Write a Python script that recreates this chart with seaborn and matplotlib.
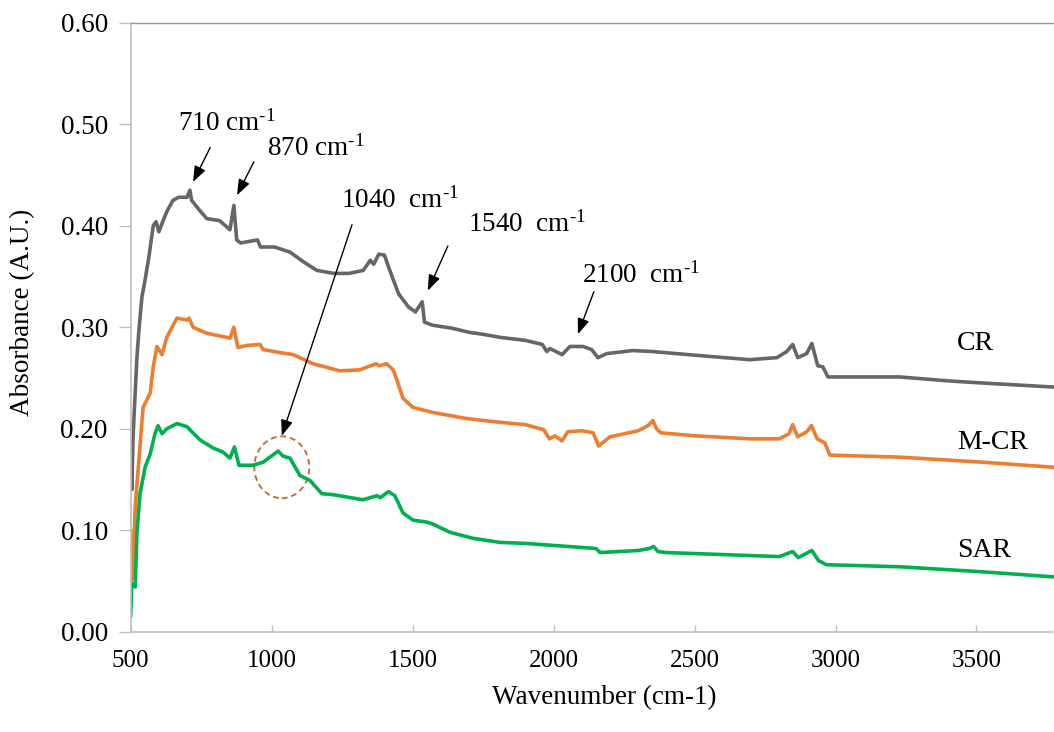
import numpy as np
import pandas as pd
import matplotlib
matplotlib.use("Agg")
import matplotlib.pyplot as plt
from matplotlib.patches import Ellipse
import seaborn as sns

# FTIR absorbance spectra (wavenumber in cm-1, absorbance in A.U.)
cr_wn = [500, 504, 508, 515, 522, 530, 540, 550, 565, 580, 590, 600, 615, 630, 650, 670, 700, 710, 716,
         745, 770, 815, 840, 852, 866, 876, 890, 950, 960, 1010, 1065, 1115, 1160, 1220, 1275, 1325, 1350,
         1362, 1380, 1400, 1415, 1450, 1485, 1510, 1534, 1542, 1570, 1640, 1700, 1750, 1810, 1900, 1960,
         1976, 1987, 2030, 2058, 2104, 2135, 2157, 2189, 2281, 2352, 2519, 2696, 2792, 2827, 2848, 2866,
         2898, 2916, 2937, 2955, 2973, 3110, 3227, 3405, 3522, 3650, 3775]
cr_abs = [0.160, 0.140, 0.190, 0.230, 0.270, 0.300, 0.330, 0.345, 0.370, 0.400, 0.404, 0.394, 0.405, 0.415,
          0.425, 0.428, 0.428, 0.435, 0.425, 0.415, 0.407, 0.405, 0.399, 0.396, 0.420, 0.386, 0.383, 0.386,
          0.379, 0.379, 0.374, 0.364, 0.356, 0.353, 0.353, 0.356, 0.366, 0.362, 0.372, 0.371, 0.359, 0.333,
          0.320, 0.315, 0.325, 0.305, 0.302, 0.299, 0.295, 0.293, 0.290, 0.287, 0.283, 0.276, 0.279, 0.273,
          0.281, 0.281, 0.278, 0.270, 0.274, 0.277, 0.276, 0.272, 0.268, 0.270, 0.276, 0.283, 0.270, 0.274,
          0.284, 0.262, 0.261, 0.251, 0.251, 0.251, 0.247, 0.245, 0.243, 0.241]

mcr_wn = [500, 504, 510, 516, 527, 544, 569, 580, 593, 611, 628, 664, 700, 707, 721, 770, 841, 852, 866,
          880, 912, 958, 970, 1029, 1076, 1147, 1242, 1313, 1370, 1382, 1408, 1431, 1444, 1466, 1501, 1572,
          1692, 1785, 1900, 1965, 1985, 2005, 2030, 2050, 2100, 2140, 2160, 2200, 2300, 2335, 2352, 2365,
          2380, 2500, 2700, 2800, 2835, 2848, 2866, 2898, 2915, 2935, 2962, 2980, 3100, 3227, 3522, 3775]
mcr_abs = [0.100, 0.051, 0.080, 0.123, 0.162, 0.221, 0.235, 0.261, 0.281, 0.273, 0.290, 0.309, 0.307, 0.309,
           0.300, 0.294, 0.290, 0.289, 0.300, 0.280, 0.282, 0.283, 0.278, 0.275, 0.273, 0.264, 0.257, 0.258,
           0.264, 0.262, 0.264, 0.258, 0.248, 0.230, 0.221, 0.216, 0.210, 0.207, 0.204, 0.199, 0.190, 0.193,
           0.188, 0.197, 0.198, 0.196, 0.183, 0.192, 0.198, 0.203, 0.208, 0.200, 0.196, 0.193, 0.190, 0.190,
           0.195, 0.204, 0.192, 0.197, 0.203, 0.190, 0.186, 0.174, 0.173, 0.172, 0.167, 0.162]

sar_wn = [500, 504, 516, 522, 533, 551, 569, 586, 597, 611, 628, 664, 700, 710, 746, 792, 827, 852, 868,
          884, 934, 970, 994, 1023, 1040, 1065, 1100, 1136, 1178, 1218, 1324, 1374, 1385, 1414, 1437, 1466,
          1501, 1550, 1572, 1632, 1714, 1810, 1900, 2000, 2100, 2150, 2165, 2300, 2340, 2355, 2370, 2400,
          2700, 2800, 2848, 2868, 2916, 2940, 2968, 3227, 3522, 3775]
sar_abs = [0.015, 0.048, 0.044, 0.097, 0.136, 0.162, 0.175, 0.195, 0.203, 0.195, 0.200, 0.205, 0.202, 0.199,
           0.189, 0.181, 0.177, 0.171, 0.182, 0.164, 0.164, 0.167, 0.172, 0.178, 0.173, 0.171, 0.154, 0.149,
           0.136, 0.135, 0.130, 0.134, 0.132, 0.138, 0.134, 0.117, 0.110, 0.108, 0.106, 0.098, 0.092, 0.088,
           0.087, 0.085, 0.083, 0.082, 0.078, 0.080, 0.082, 0.084, 0.079, 0.078, 0.075, 0.074, 0.079, 0.073,
           0.080, 0.070, 0.066, 0.064, 0.059, 0.054]

series_names = ["CR", "M-CR", "SAR"]
series_colors = ["#666666", "#ED7D31", "#00B050"]
series_label_y = [0.284, 0.186, 0.080]

x_ticks = [500, 1000, 1500, 2000, 2500, 3000, 3500]
y_ticks = [0.0, 0.1, 0.2, 0.3, 0.4, 0.5, 0.6]

# peak annotations: label, text anchor, arrow tail, arrow tip
peak_labels = ["710 cm$^{\\text{-1}}$", "870 cm$^{\\text{-1}}$", "1040  cm$^{\\text{-1}}$",
               "1540  cm$^{\\text{-1}}$", "2100  cm$^{\\text{-1}}$"]
peak_text_xy = [(668, 0.494), (984, 0.469), (1246, 0.418), (1696, 0.394), (2101, 0.344)]
peak_arrow_tail = [(782, 0.477), (937, 0.463), (1285, 0.401), (1625, 0.380), (2143, 0.335)]
peak_arrow_tip = [(721, 0.443), (877, 0.430), (1036, 0.193), (1554, 0.336), (2086, 0.293)]

sns.set_theme(style="white")
plt.rcParams["font.family"] = ["Liberation Serif", "DejaVu Serif"]
plt.rcParams["mathtext.fontset"] = "custom"
plt.rcParams["mathtext.rm"] = "Liberation Serif"
plt.rcParams["mathtext.default"] = "regular"

fig = plt.figure(figsize=(10.54, 7.32), dpi=100)
ax = fig.add_axes([0.124, 0.137, 0.876, 0.832])

frames = []
for name, wn, ab in [("CR", cr_wn, cr_abs), ("M-CR", mcr_wn, mcr_abs), ("SAR", sar_wn, sar_abs)]:
    frames.append(pd.DataFrame({"wavenumber": wn, "absorbance": ab, "sample": name}))
df = pd.concat(frames, ignore_index=True)

sns.lineplot(data=df, x="wavenumber", y="absorbance", hue="sample", hue_order=series_names,
             palette=series_colors, estimator=None, sort=False, linewidth=2.6, legend=False, ax=ax)

ax.set_xlim(500, 3775)
ax.set_ylim(0, 0.6)
ax.set_xticks(x_ticks)
ax.set_xticklabels([str(t) for t in x_ticks])
ax.set_yticks(y_ticks)
ax.set_yticklabels([f"{t:.2f}" for t in y_ticks])

ax.spines["right"].set_visible(False)
ax.spines["top"].set_color("#8497B0")
ax.spines["top"].set_linestyle((0, (1, 1)))
ax.spines["top"].set_linewidth(1.0)
ax.spines["left"].set_color("#BFBFBF")
ax.spines["left"].set_linewidth(1.2)
ax.spines["bottom"].set_color("#BFBFBF")
ax.spines["bottom"].set_linestyle((0, (1, 1)))
ax.spines["bottom"].set_linewidth(1.2)

ax.tick_params(axis="y", direction="out", length=8.5, width=1.0, color="#BFBFBF",
               labelsize=19.5, pad=8, left=True, labelcolor="black")
ax.tick_params(axis="x", direction="in", length=5, width=1.0, color="#BFBFBF",
               labelsize=18, pad=13, bottom=True, labelcolor="black")

ax.set_xlabel("Wavenumber (cm-1)", fontsize=19.5, color="black")
ax.set_ylabel("Absorbance (A.U.)", fontsize=19.5, color="black")
ax.xaxis.set_label_coords(0.513, -0.088)
ax.yaxis.set_label_coords(-0.104, 0.525)

for name, ly in zip(series_names, series_label_y):
    ax.text(3430, ly, name, fontsize=20, ha="left", va="center", color="black")

for lab, txy, tail, tip in zip(peak_labels, peak_text_xy, peak_arrow_tail, peak_arrow_tip):
    ax.text(txy[0], txy[1], lab, fontsize=19.5, ha="left", va="baseline", color="black")
    ax.annotate("", xy=tip, xytext=tail,
                arrowprops=dict(arrowstyle="-|>,head_length=0.8,head_width=0.3", color="black",
                                lw=1.0, shrinkA=0, shrinkB=0))

ax.add_patch(Ellipse((1036, 0.162), width=195, height=0.061, fill=False, edgecolor="#C0703A",
                     linestyle=(0, (3, 2)), linewidth=1.4))

fig.savefig("out.png", dpi=100)
